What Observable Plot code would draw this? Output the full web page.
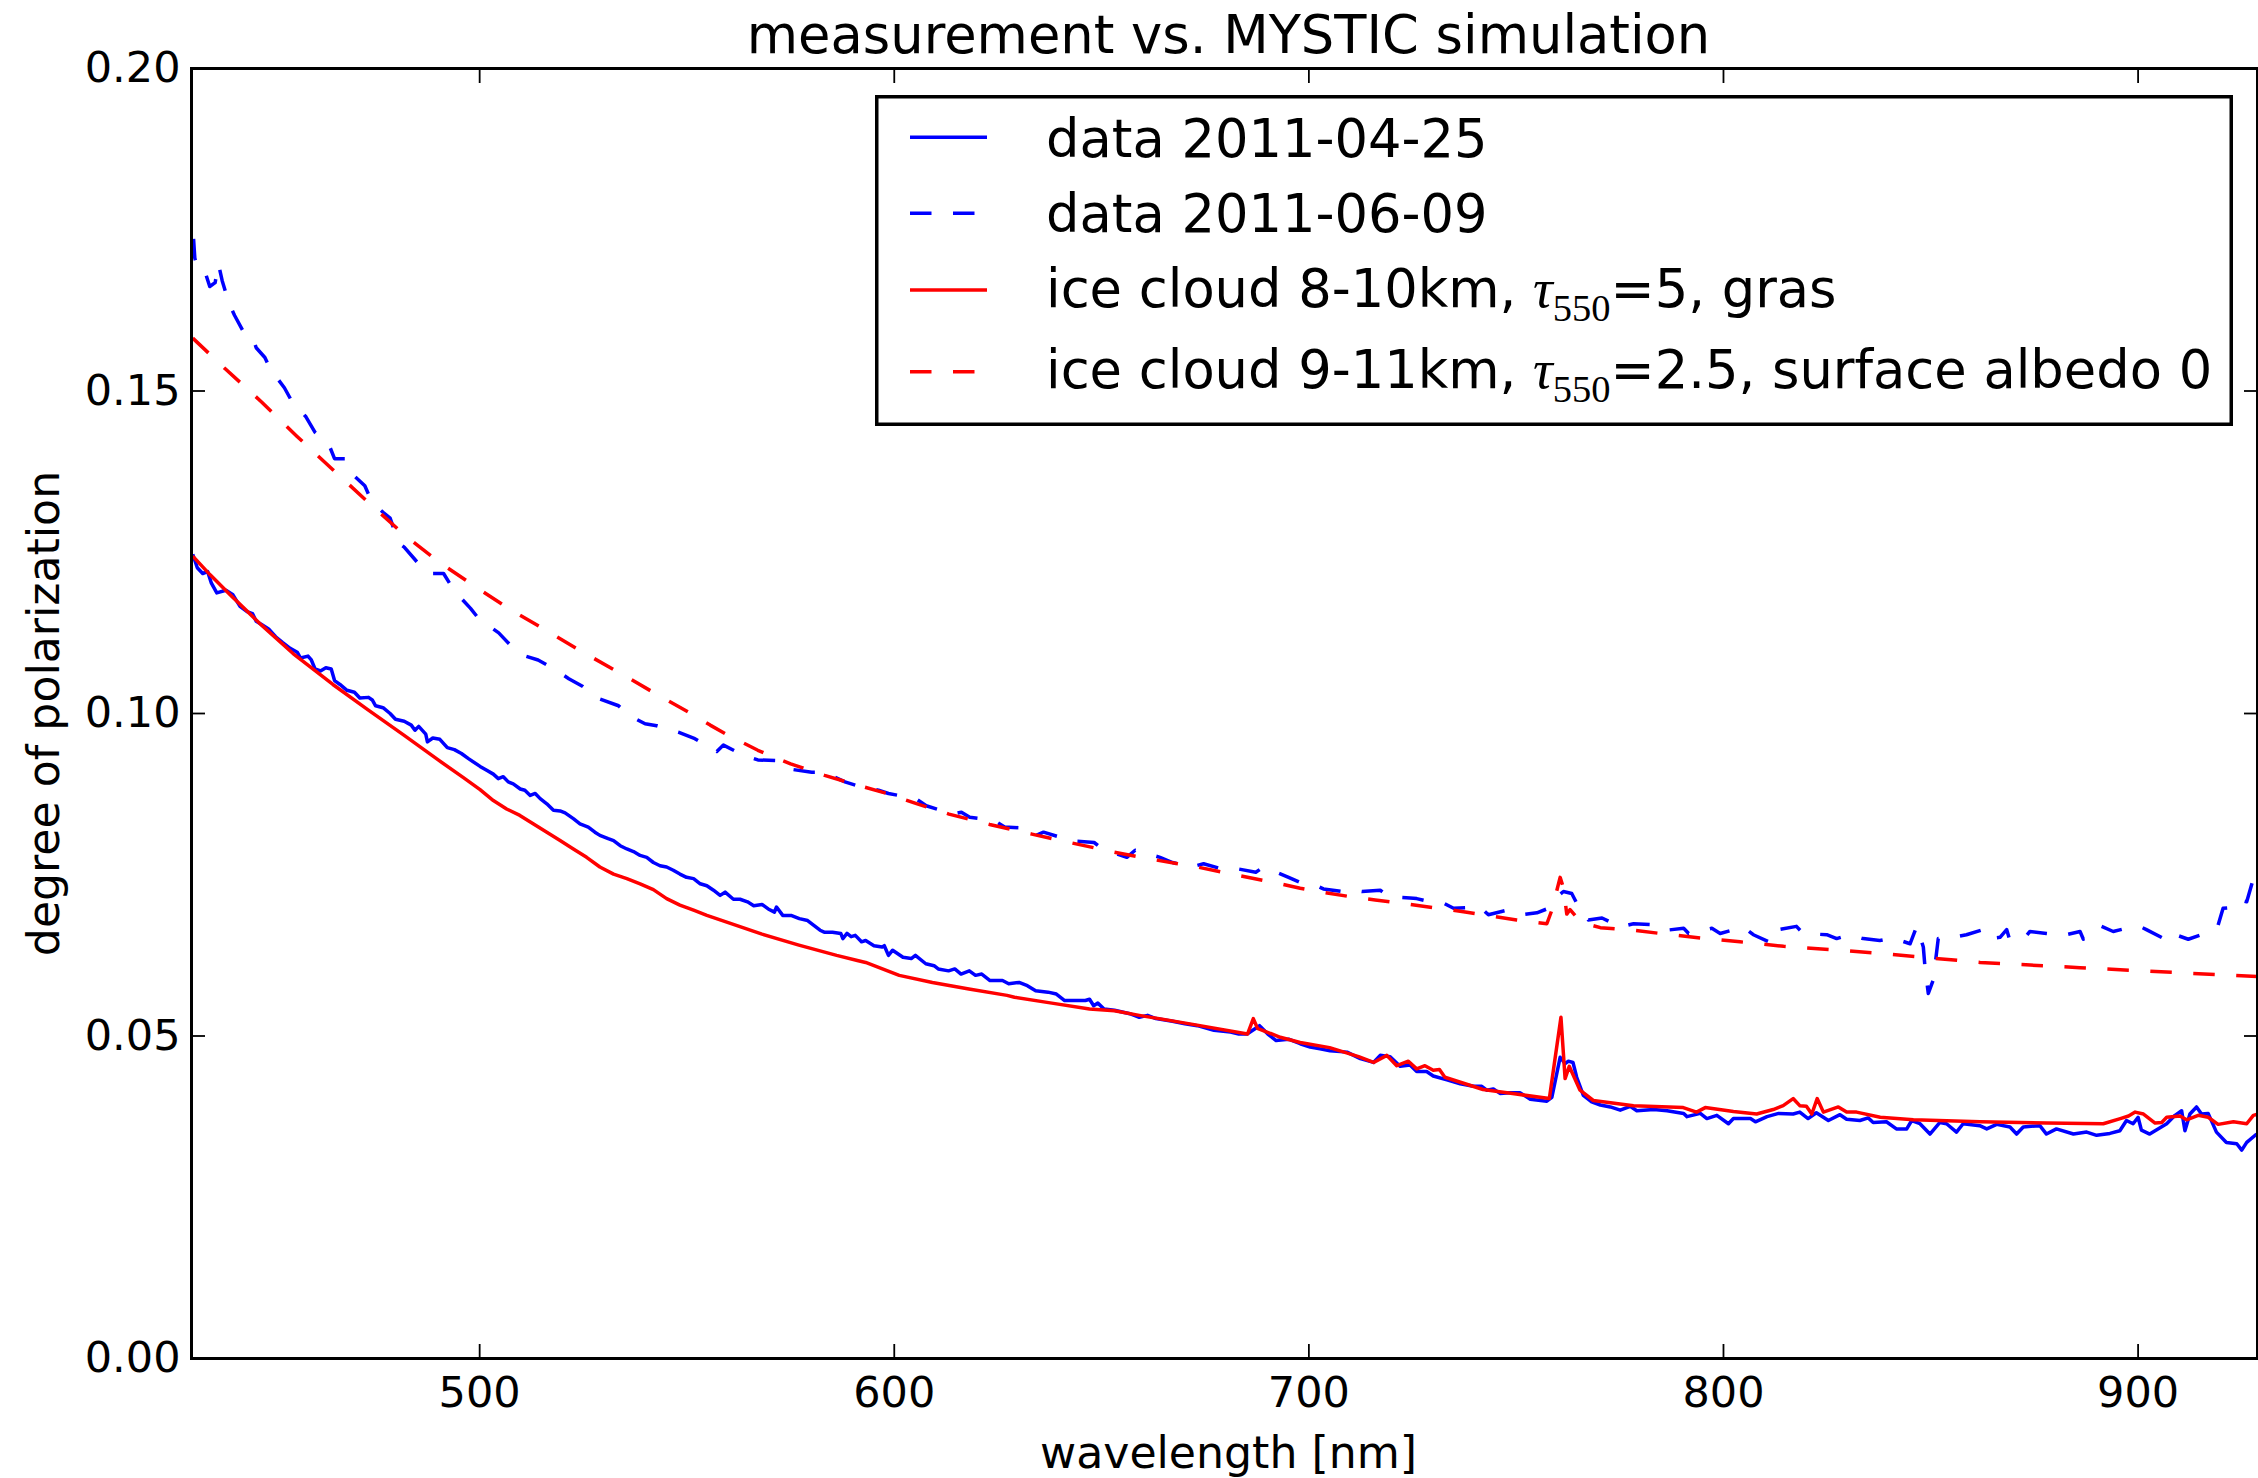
<!DOCTYPE html>
<html>
<head>
<meta charset="utf-8">
<script src="https://cdn.jsdelivr.net/npm/d3@7"></script>
<script src="https://cdn.jsdelivr.net/npm/@observablehq/plot@0.6"></script>
<style>
  html, body { margin: 0; padding: 0; background: #fff; }
  #chart { width: 2258px; height: 1478px; }
</style>
</head>
<body>
<div id="chart"></div>
<script>
// ---------------- data (wavelength [nm], degree of polarization) ----------------
const titleText = "measurement vs. MYSTIC simulation";
const xLabelText = "wavelength [nm]";
const yLabelText = "degree of polarization";
const xTicks = [500, 600, 700, 800, 900];
const yTicks = [0, 0.05, 0.10, 0.15, 0.20];

// data 2011-04-25 (blue solid)
const data20110425 = [
[430.8,.1247],[431.9,.1226],[433.2,.1217],[434.4,.1220],[435.3,.1202],[436.6,.1187],[438.8,.1191],[440.5,.1184],
[442.2,.1166],[443.9,.1158],[445.2,.1155],[446.1,.1143],[447.4,.1138],[449.1,.1131],[450.8,.1119],[452.5,.1110],
[454.3,.1101],[456,.1095],[456.8,.1086],[458.6,.1089],[459.4,.1083],[460.3,.1069],[461.6,.1066],[462.9,.1071],
[464.2,.1069],[465,.1051],[466.3,.1045],[468,.1036],[469.8,.1033],[471.1,.1024],[473.2,.1025],[474.1,.1021],
[474.9,.1012],[476.7,.1009],[478.4,.1000],[479.7,.0991],[481.8,.0988],[483.5,.0982],[484.4,.0974],[485.3,.0980],
[487,.0968],[487.4,.0956],[488.7,.0962],[490.4,.0960],[492.2,.0947],[493.9,.0944],[495.6,.0938],[497.3,.0930],
[500.1,.0918],[501.7,.0912],[503.3,.0906],[504.5,.0899],[505.7,.0902],[506.9,.0894],[508.1,.0891],[509.8,.0883],
[510.9,.0881],[512.2,.0873],[513.4,.0876],[514.6,.0868],[516.2,.0860],[517.8,.0850],[519.4,.0849],[520.6,.0846],
[522.6,.0837],[524.2,.0829],[526.2,.0824],[527.8,.0816],[529,.0811],[531,.0806],[532.3,.0803],[533.9,.0795],
[535.5,.0790],[537.1,.0786],[538.7,.0780],[540.3,.0777],[541.9,.0769],[543.5,.0764],[545.1,.0762],[546.7,.0757],
[548.3,.0751],[549.9,.0746],[551.6,.0744],[553.2,.0736],[554.8,.0733],[556.4,.0726],[558,.0718],[559.2,.0723],
[561.2,.0712],[562.8,.0712],[564.6,.0708],[566.1,.0702],[568.1,.0704],[569.6,.0697],[571.1,.0692],[571.6,.0700],
[573.1,.0687],[575.1,.0687],[577.1,.0682],[579.1,.0679],[582.1,.0664],[583.1,.0661],[585.1,.0661],[587.1,.0659],
[587.6,.0651],[588.6,.0659],[589.6,.0654],[590.6,.0656],[592.1,.0646],[593.1,.0648],[595.1,.0640],[597.1,.0638],
[597.6,.0640],[598.6,.0625],[599.6,.0633],[602.1,.0622],[604.1,.0620],[605.1,.0625],[607.6,.0612],[609.6,.0609],
[610.6,.0604],[613.1,.0601],[614.6,.0604],[616.1,.0596],[618.1,.0601],[619.6,.0594],[621.1,.0596],[623.1,.0586],
[626.1,.0586],[627.6,.0581],[630.1,.0583],[632.1,.0578],[634.1,.0570],[637.1,.0568],[639.1,.0565],[641.1,.0555],
[643.1,.0555],[646.1,.0555],[647.1,.0557],[648.1,.0547],[649.1,.0551],[650.6,.0542],[653.1,.0540],[657.1,.0534],
[659.1,.0529],[661.1,.0532],[663.1,.0527],[667.1,.0523],[670.1,.0519],[673.1,.0516],[677.1,.0509],[681.1,.0506],
[683.1,.0503],[685.1,.0503],[688.1,.0516],[690.1,.0503],[692.1,.0493],[695.1,.0495],[697.9,.0488],[700.3,.0483],
[702.7,.0480],[705.1,.0477],[709.2,.0475],[712.4,.0465],[715.6,.0459],[717.2,.0470],[719.6,.0468],[722,.0453],
[724.4,.0455],[726,.0445],[728.4,.0445],[730,.0438],[733.3,.0432],[736.5,.0426],[739.7,.0422],[741.7,.0422],
[742.9,.0416],[744.5,.0418],[746.1,.0411],[748.5,.0412],[750.9,.0412],[753.4,.0402],[757.4,.0399],[758.6,.0405],
[760.6,.0467],[761.8,.0457],[762.6,.0461],[763.7,.0459],[764.6,.0436],[766.2,.0408],[768.2,.0398],[770.3,.0393],
[772.7,.0390],[775.1,.0385],[777.5,.0391],[779.1,.0384],[783.2,.0386],[786.4,.0384],[790.4,.0380],[791.2,.0375],
[794.4,.0380],[796,.0372],[798.4,.0377],[801.2,.0364],[802.4,.0372],[806.5,.0372],[807.7,.0367],[810.5,.0375],
[813.3,.0380],[816.8,.0379],[818.4,.0382],[820.4,.0372],[822.4,.0381],[825.3,.0369],[828.1,.0378],[829.7,.0371],
[832.9,.0369],[834.9,.0373],[836.1,.0366],[839.3,.0367],[841.7,.0356],[844.2,.0356],[845.4,.0369],[847.4,.0364],
[849.8,.0348],[852.2,.0366],[853.8,.0364],[856.2,.0351],[857.8,.0364],[861.8,.0361],[863.5,.0356],[865.9,.0363],
[869.1,.0359],[870.7,.0348],[872.3,.0359],[876.3,.0361],[877.9,.0348],[880.3,.0356],[884.4,.0348],[887.6,.0351],
[890,.0346],[893.2,.0349],[895.6,.0353],[897.2,.0369],[898.8,.0364],[900,.0374],[900.8,.0354],[902.8,.0348],
[904.1,.0353],[906.9,.0364],[908.9,.0377],[910.5,.0384],[911.3,.0353],[912.5,.0379],[914.1,.0390],[915.3,.0379],
[916.9,.0380],[918.9,.0351],[921.3,.0335],[923.8,.0333],[925,.0323],[926.2,.0335],[928.6,.0348]
];

// data 2011-06-09 (blue dashed)
const data20110609 = [
[431,.1736],[431.3,.1706],[432.3,.1683],[434,.1680],[434.9,.1662],[436.2,.1668],[437,.1697],[437.9,.1671],
[439.6,.1635],[440.9,.1617],[443.1,.1591],[445.2,.1585],[446.1,.1567],[448.2,.1552],[449.5,.1534],[452.9,.1505],
[454.7,.1484],[458.1,.1460],[460.3,.1436],[463.7,.1416],[465,.1395],[467.6,.1395],[469.8,.1368],[472.3,.1353],
[474.1,.1327],[476.7,.1312],[478.4,.1303],[480.5,.1264],[481.8,.1258],[485.3,.1232],[487.4,.1217],[491.3,.1217],
[493.9,.1190],[497.8,.1163],[499.9,.1146],[504.6,.1125],[507.7,.1104],[511.1,.1089],[514.1,.1083],[518,.1069],
[521.5,.1054],[524.9,.1042],[528.3,.1024],[533.5,.1012],[536.1,.0997],[539.9,.0984],[542.7,.0981],[547.9,.0971],
[551.9,.0961],[557.2,.0941],[558.8,.0951],[563.7,.0935],[567.1,.0928],[572.2,.0927],[574.6,.0914],[580.1,.0909],
[583,.0909],[588.1,.0894],[591.1,.0888],[596.2,.0881],[598.6,.0876],[605.2,.0868],[607.7,.0857],[614.1,.0844],
[616.2,.0847],[618.2,.0839],[624.2,.0834],[626.6,.0824],[632.6,.0822],[634.1,.0811],[636,.0816],[640.1,.0808],
[641.6,.0803],[648.2,.0800],[650.2,.0790],[656.1,.0777],[658.1,.0788],[664.1,.0777],[667.1,.0769],[671.6,.0762],
[674.6,.0767],[680.1,.0757],[683,.0759],[687.2,.0754],[689.1,.0762],[695.1,.0746],[697.9,.0738],[701.9,.0733],
[703.5,.0728],[709.2,.0723],[710.8,.0726],[712.8,.0724],[717.2,.0726],[719.2,.0716],[724.4,.0714],[726,.0713],
[728,.0710],[732.5,.0706],[734.9,.0698],[741.3,.0700],[743.3,.0688],[747.7,.0695],[751.4,.0688],[755,.0691],
[757.4,.0697],[758.6,.0709],[761.4,.0724],[763.4,.0721],[764.6,.0706],[767.4,.0680],[770.7,.0683],[775.1,.0669],
[778.3,.0674],[784.3,.0672],[786.3,.0664],[790.4,.0667],[791.6,.0659],[797.2,.0667],[799.2,.0659],[804.8,.0669],
[807.2,.0657],[811.7,.0644],[813.3,.0665],[817.6,.0670],[819.2,.0659],[824.9,.0657],[827.3,.0651],[830.5,.0657],
[833.7,.0651],[837.7,.0648],[840.9,.0652],[845,.0643],[846.6,.0670],[848.2,.0638],[848.6,.0607],[849.4,.0566],
[850.6,.0587],[851.8,.0651],[855.4,.0653],[858.6,.0657],[862.6,.0665],[863.9,.0651],[866.7,.0653],[868.3,.0665],
[869,.0650],[872.3,.0650],[873.9,.0662],[877.9,.0659],[881.9,.0656],[886,.0662],[886.8,.0650],[888.4,.0659],
[891.2,.0670],[894,.0662],[898.4,.0669],[900.4,.0670],[902,.0665],[906.5,.0650],[907.7,.0660],[912.1,.0650],
[915.3,.0657],[919.3,.0672],[920.5,.0698],[924.1,.0700],[924.9,.0710],[926.2,.0708],[927.8,.0744],[929,.0752]
];

// ice cloud 8-10km, tau550=5, gras (red solid)
const iceCloud810 = [
[430.8,.1244],[435,.1215],[440,.1183],[447.4,.1137],[455,.1093],[464.6,.1045],[473,.1006],[481.8,.0966],
[490,.0928],[496,.0901],[500.1,.0882],[503.3,.0865],[506.5,.0852],[509.7,.0842],[512.9,.0829],[516.2,.0816],
[519.4,.0803],[522.6,.0790],[525.8,.0777],[529,.0762],[532.3,.0751],[535.5,.0744],[538.7,.0736],[541.9,.0727],
[545.1,.0713],[548.3,.0703],[551.6,.0695],[554.8,.0687],[558,.0680],[568.1,.0658],[577,.0641],[586.1,.0625],
[591.1,.0617],[593.1,.0614],[601.2,.0594],[609.2,.0583],[618,.0573],[627.2,.0563],[629,.0560],[638,.0551],
[647.1,.0542],[653.1,.0539],[659.1,.0532],[672,.0518],[685.2,.0503],[686.6,.0527],[687.6,.0512],[693.1,.0498],
[697.9,.0490],[705,.0482],[712,.0468],[715.6,.0459],[718.8,.0470],[721.2,.0454],[724,.0461],[726,.0449],
[728,.0454],[730,.0447],[731.5,.0448],[732.8,.0436],[742,.0417],[750,.0410],[758,.0403],[760.8,.0529],
[761.8,.0434],[762.8,.0453],[765.4,.0416],[768.6,.0400],[778.3,.0392],[790.3,.0389],[793.5,.0382],[795.6,.0389],
[802.4,.0383],[808,.0379],[812,.0386],[814.4,.0392],[816.8,.0403],[818.4,.0392],[820,.0391],[821.3,.0379],
[822.6,.0403],[824.1,.0382],[827.7,.0390],[829.7,.0382],[832.1,.0382],[837.8,.0374],[845.8,.0370],[861.9,.0367],
[878,.0365],[891.6,.0364],[895.7,.0372],[897.7,.0376],[899.3,.0382],[901.3,.0379],[904.1,.0365],[905.7,.0366],
[906.9,.0374],[910.1,.0376],[911.7,.0370],[914.5,.0377],[916.9,.0374],[919.3,.0363],[923,.0367],[926.2,.0364],
[927.8,.0377],[929,.0379]
];

// ice cloud 9-11km, tau550=2.5, surface albedo 0 (red dashed)
const iceCloud911 = [
[430.8,.1582],[438.7,.1534],[447.4,.1483],[455.9,.1430],[464.6,.1378],[473.2,.1327],[481.8,.1277],[490.4,.1234],
[499.1,.1196],[507.7,.1160],[516.3,.1128],[524.9,.1095],[533.5,.1064],[542.1,.1032],[550.7,.1001],[555.6,.0982],
[560,.0966],[567.1,.0943],[575,.0922],[583.2,.0904],[590,.0891],[598.2,.0876],[605,.0861],[613.2,.0844],
[623,.0828],[633.2,.0813],[643,.0799],[653.1,.0785],[663,.0773],[673.1,.0762],[683,.0749],[693.1,.0736],
[697.9,.0729],[704,.0722],[710,.0716],[716,.0711],[722,.0706],[730,.0699],[738.1,.0692],[744,.0686],
[750.1,.0680],[755,.0676],[757.4,.0674],[758.6,.0695],[760.6,.0746],[761.4,.0730],[762.2,.0689],[763,.0696],
[764.6,.0684],[767,.0674],[770.3,.0668],[778.3,.0664],[786,.0658],[794.4,.0652],[804,.0646],[814.5,.0639],
[826,.0634],[837.8,.0628],[850,.0621],[861.9,.0614],[874,.0610],[886,.0606],[898,.0602],[910.2,.0598],
[920,.0595],[929,.0592]
];

// legend
const legendEntries = [
  ["data 2011-04-25"],
  ["data 2011-06-09"],
  ["ice cloud 8-10km, ", "τ", "550", "=5, gras"],
  ["ice cloud 9-11km, ", "τ", "550", "=2.5, surface albedo 0"]
];
const seriesColors = ["#0000ff", "#0000ff", "#ff0000", "#ff0000"];
const seriesDashed = [false, true, false, true];
const seriesData = [data20110425, data20110609, iceCloud810, iceCloud911];

// ---------------- chart ----------------
const DASH = "21.5,21.5";
const LW = 3.5;
const toRows = arr => arr.map(([w, v]) => ({w, v}));

const lineMarks = seriesData.map((d, i) =>
  Plot.line(toRows(d), {
    x: "w", y: "v",
    stroke: seriesColors[i],
    strokeWidth: LW,
    strokeDasharray: seriesDashed[i] ? DASH : null,
    strokeLinejoin: "round",
    strokeLinecap: "butt",
    clip: true
  })
);

const svg = Plot.plot({
  width: 2258,
  height: 1478,
  marginLeft: 191,
  marginRight: 1,
  marginTop: 68,
  marginBottom: 120,
  style: {fontFamily: "'DejaVu Sans', sans-serif", fontSize: "43px", background: "#fff", color: "#000"},
  x: {domain: [430.5, 928.8], label: null},
  y: {domain: [0, 0.2], label: null},
  marks: [
    ...lineMarks,
    Plot.frame({stroke: "#000", strokeWidth: 3}),
    // inward tick marks on all four sides
    Plot.axisX(xTicks, {anchor: "bottom", tickSize: 14, dy: -14, strokeWidth: 1.8, fill: "none", label: null}),
    Plot.axisX(xTicks, {anchor: "top", tickSize: 14, dy: 14, strokeWidth: 1.8, fill: "none", label: null}),
    Plot.axisY(yTicks, {anchor: "left", tickSize: 14, dx: 14, strokeWidth: 1.8, fill: "none", label: null}),
    Plot.axisY(yTicks, {anchor: "right", tickSize: 14, dx: -14, strokeWidth: 1.8, fill: "none", label: null}),
    // tick labels
    Plot.axisX(xTicks, {anchor: "bottom", tickSize: 0, tickPadding: 18, fontSize: 43, label: null, tickFormat: d => String(d)}),
    Plot.axisY(yTicks, {anchor: "left", tickSize: 0, tickPadding: 11, fontSize: 43, label: null, tickFormat: d3.format(".2f")}),
    // axis titles and chart title
    Plot.text([xLabelText], {text: d => d, frameAnchor: "bottom", dx: 4, dy: 95, fontSize: 44.2, lineAnchor: "middle", textAnchor: "middle"}),
    Plot.text([yLabelText], {text: d => d, frameAnchor: "left", rotate: -90, dx: -146.5, fontSize: 44.2, lineAnchor: "middle", textAnchor: "middle"}),
    Plot.text([titleText], {text: d => d, frameAnchor: "top", dx: 4, dy: -32.6, fontSize: 52.7, lineAnchor: "middle", textAnchor: "middle"})
  ]
});

// legend inside the axes (upper right)
const lg = d3.select(svg).append("g").attr("class", "legend").attr("text-anchor", "start");
lg.append("rect")
  .attr("x", 875 + 1.75).attr("y", 95 + 1.75)
  .attr("width", 1358 - 3.5).attr("height", 331 - 3.5)
  .attr("fill", "#fff").attr("stroke", "#000").attr("stroke-width", 3.5);

const lineYs = [137.3, 213.3, 290, 371.7];
const textYs = [156.7, 231.7, 306.7, 388.3];
legendEntries.forEach((parts, i) => {
  lg.append("line")
    .attr("x1", 910).attr("x2", 987)
    .attr("y1", lineYs[i]).attr("y2", lineYs[i])
    .attr("stroke", seriesColors[i]).attr("stroke-width", LW)
    .attr("stroke-dasharray", seriesDashed[i] ? DASH : null);
  const t = lg.append("text")
    .attr("x", 1046).attr("y", textYs[i])
    .attr("text-anchor", "start")
    .attr("font-family", "'DejaVu Sans', sans-serif")
    .attr("font-size", 52.7).attr("fill", "#000");
  t.append("tspan").text(parts[0]);
  if (parts.length > 1) {
    t.append("tspan").attr("font-family", "'Liberation Serif', serif").attr("font-style", "italic").attr("font-size", 55).text(parts[1]);
    t.append("tspan").attr("font-family", "'Liberation Serif', serif").attr("font-size", 38.5).attr("dy", 14).text(parts[2]);
    t.append("tspan").attr("dy", -14).text(parts[3]);
  }
});

document.getElementById("chart").appendChild(svg);
</script>
</body>
</html>
